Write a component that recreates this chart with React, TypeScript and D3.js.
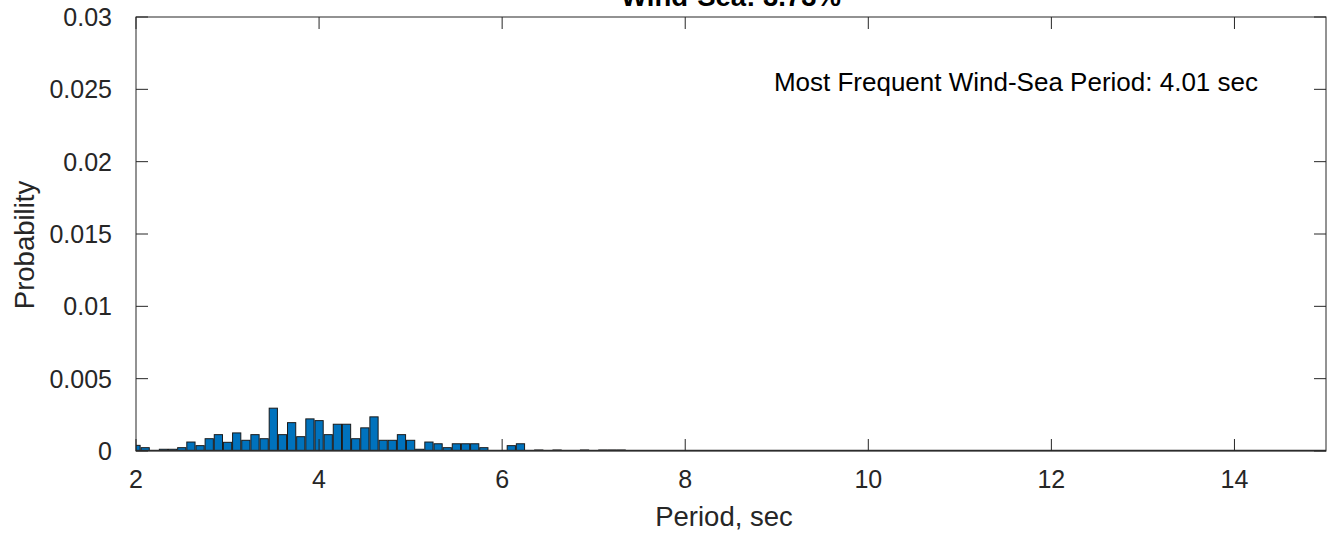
import React, { useEffect, useRef } from "react";
import * as d3 from "d3";

const binCenters = [
  2.0, 2.1, 2.2, 2.3, 2.4, 2.5, 2.6, 2.7, 2.8, 2.9, 3.0, 3.1, 3.2, 3.3, 3.4, 3.5, 3.6, 3.7, 3.8, 3.9,
  4.0, 4.1, 4.2, 4.3, 4.4, 4.5, 4.6, 4.7, 4.8, 4.9, 5.0, 5.1, 5.2, 5.3, 5.4, 5.5, 5.6, 5.7, 5.8, 5.9,
  6.0, 6.1, 6.2, 6.3, 6.4, 6.5, 6.6, 6.7, 6.8, 6.9, 7.0, 7.1, 7.2, 7.3,
];
const probabilities = [
  0.00039, 0.00023, 0, 0.00012, 0.00012, 0.00023, 0.00062, 0.00037, 0.00085, 0.00113, 0.0006, 0.00125,
  0.00074, 0.00113, 0.00085, 0.00296, 0.00113, 0.00196, 0.00099, 0.00222, 0.0021, 0.00113, 0.00185,
  0.00185, 0.00085, 0.0016, 0.00236, 0.00074, 0.00074, 0.00113, 0.00074, 0.00012, 0.00062, 0.0005,
  0.00023, 0.0005, 0.0005, 0.0005, 0.00023, 0, 0, 0.00037, 0.0005, 0, 0.00007, 0, 0.00007, 0, 0,
  0.00007, 0, 0.00007, 0.00007, 0.00007,
];
const xTicks = [2, 4, 6, 8, 10, 12, 14];
const yTicks = [0, 0.005, 0.01, 0.015, 0.02, 0.025, 0.03];

export default function App() {
  const ref = useRef<SVGSVGElement | null>(null);

  useEffect(() => {
    if (!ref.current) return;
    const svg = d3.select(ref.current);
    svg.selectAll("*").remove();
    const m = { left: 136, right: 1326, top: 17, bottom: 451 };
    const x = d3.scaleLinear().domain([2, 15]).range([m.left, m.right]);
    const y = d3.scaleLinear().domain([0, 0.03]).range([m.bottom, m.top]);
    const font = "'Liberation Sans', Arial, sans-serif";
    const bw = x(2.1) - x(2.0);

    svg.append("defs").append("clipPath").attr("id", "plot")
      .append("rect").attr("x", m.left).attr("y", m.top)
      .attr("width", m.right - m.left).attr("height", m.bottom - m.top);

    svg.append("g").attr("clip-path", "url(#plot)")
      .selectAll("rect").data(binCenters).enter().append("rect")
      .attr("x", (d) => x(d) - bw * 0.45)
      .attr("width", bw * 0.9)
      .attr("y", (_, i) => y(probabilities[i]))
      .attr("height", (_, i) => y(0) - y(probabilities[i]))
      .attr("fill", "#0072bd")
      .attr("stroke", "#1a1a1a")
      .attr("stroke-width", 1);

    // baseline of zero bins
    svg.append("line").attr("x1", m.left).attr("x2", m.right)
      .attr("y1", m.bottom - 0.5).attr("y2", m.bottom - 0.5)
      .attr("stroke", "#333").attr("stroke-width", 1.5);

    const axisColor = "#262626";
    const tl = 12;
    const g = svg.append("g").attr("stroke", axisColor).attr("stroke-width", 1);
    xTicks.forEach((t) => {
      g.append("line").attr("x1", x(t)).attr("x2", x(t)).attr("y1", m.bottom).attr("y2", m.bottom - tl);
      g.append("line").attr("x1", x(t)).attr("x2", x(t)).attr("y1", m.top).attr("y2", m.top + tl);
    });
    yTicks.forEach((t) => {
      g.append("line").attr("x1", m.left).attr("x2", m.left + tl).attr("y1", y(t)).attr("y2", y(t));
      g.append("line").attr("x1", m.right).attr("x2", m.right - tl).attr("y1", y(t)).attr("y2", y(t));
    });
    g.append("rect").attr("x", m.left).attr("y", m.top)
      .attr("width", m.right - m.left).attr("height", m.bottom - m.top)
      .attr("fill", "none");

    const txt = svg.append("g").attr("font-family", font).attr("fill", "#262626");
    xTicks.forEach((t) => {
      txt.append("text").attr("x", x(t)).attr("y", 488).attr("text-anchor", "middle")
        .attr("font-size", 25).text(String(t));
    });
    yTicks.forEach((t) => {
      txt.append("text").attr("x", m.left - 24).attr("y", y(t) + 9).attr("text-anchor", "end")
        .attr("font-size", 25).text(String(t));
    });
    txt.append("text").attr("x", 724).attr("y", 526).attr("text-anchor", "middle")
      .attr("font-size", 27.5).text("Period, sec");
    txt.append("text").attr("transform", `translate(34, 245) rotate(-90)`)
      .attr("text-anchor", "middle").attr("font-size", 27.5).text("Probability");
    txt.append("text").attr("x", 731).attr("y", 6).attr("text-anchor", "middle")
      .attr("font-size", 27.5).attr("font-weight", "bold").attr("fill", "#000").text("Wind-Sea: 3.73%");
    txt.append("text").attr("x", 1258).attr("y", 91).attr("text-anchor", "end")
      .attr("font-size", 26).attr("fill", "#000").text("Most Frequent Wind-Sea Period: 4.01 sec");
  }, []);

  return (
    <svg ref={ref} width={1328} height={535}
      style={{ position: "absolute", left: 0, top: 0, background: "#fff" }} />
  );
}
